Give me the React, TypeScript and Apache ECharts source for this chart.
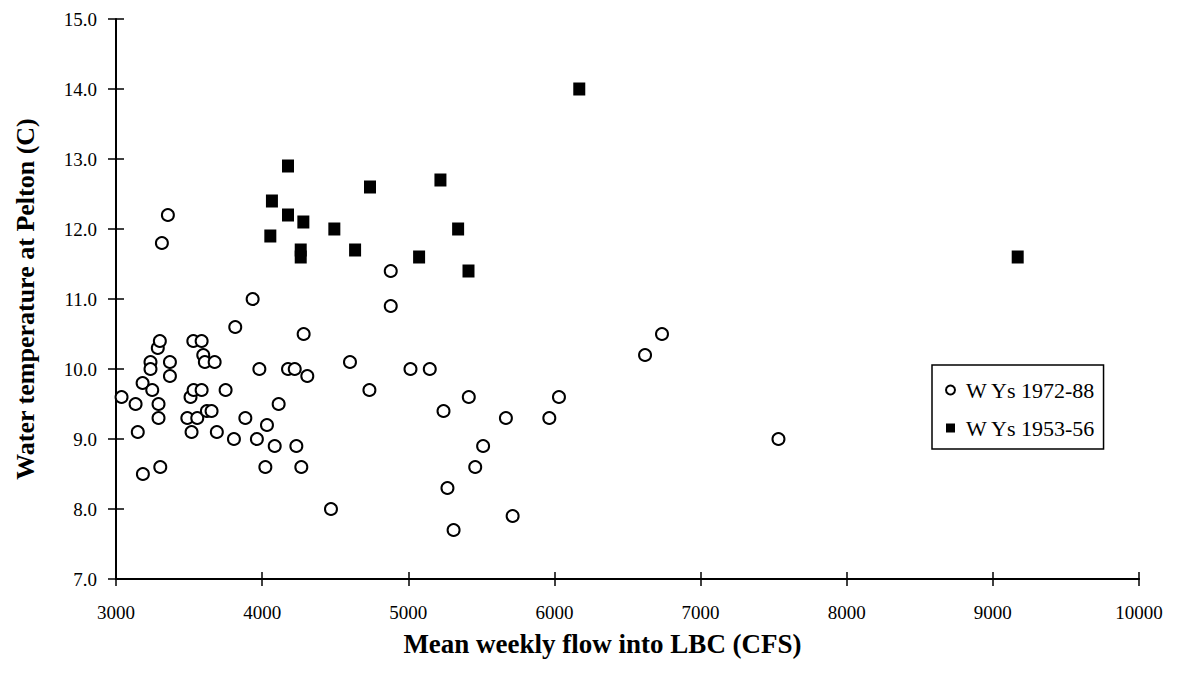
import React, { useEffect, useRef } from "react";
import * as echarts from "echarts";

const flow7288 = [
  3038, 3134, 3149, 3184, 3182, 3236, 3236, 3248, 3286, 3300, 3291, 3291, 3303, 3314, 3355,
  3369, 3369, 3488, 3510, 3517, 3529, 3531, 3556, 3586, 3586, 3597, 3608, 3622, 3654, 3675,
  3690, 3750, 3807, 3816, 3885, 3935, 3964, 3981, 4022, 4033, 4086, 4113, 4177, 4223, 4234,
  4268, 4284, 4309, 4471, 4601, 4734, 4880, 4880, 5015, 5147, 5241, 5268, 5310, 5414, 5458,
  5512, 5668, 5714, 5965, 6031, 6620, 6736, 7533,
];
const temp7288 = [
  9.6, 9.5, 9.1, 8.5, 9.8, 10.1, 10.0, 9.7, 10.3, 10.4, 9.5, 9.3, 8.6, 11.8, 12.2,
  10.1, 9.9, 9.3, 9.6, 9.1, 10.4, 9.7, 9.3, 10.4, 9.7, 10.2, 10.1, 9.4, 9.4, 10.1,
  9.1, 9.7, 9.0, 10.6, 9.3, 11.0, 9.0, 10.0, 8.6, 9.2, 8.9, 9.5, 10.0, 10.0, 8.9,
  8.6, 10.5, 9.9, 8.0, 10.1, 9.7, 11.4, 10.9, 10.0, 10.0, 9.4, 8.3, 7.7, 9.6, 8.6,
  8.9, 9.3, 7.9, 9.3, 9.6, 10.2, 10.5, 9.0,
];
const flow5356 = [
  4056, 4067, 4177, 4177, 4264, 4264, 4282, 4494, 4636, 4738, 5074, 5220, 5341, 5412, 6170, 9170,
];
const temp5356 = [
  11.9, 12.4, 12.9, 12.2, 11.7, 11.6, 12.1, 12.0, 11.7, 12.6, 11.6, 12.7, 12.0, 11.4, 14.0, 11.6,
];

const xTicks = { min: 3000, max: 10000, interval: 1000 };
const yTicks = { min: 7, max: 15, interval: 1 };
const seriesNames = ["W Ys 1972-88", "W Ys 1953-56"];

const FONT = "Liberation Serif, Times New Roman, serif";

export default function App() {
  const ref = useRef<HTMLDivElement>(null);
  useEffect(() => {
    if (!ref.current) return;
    const chart = echarts.init(ref.current, undefined, { renderer: "svg" });
    const d1 = flow7288.map((x, i) => [x, temp7288[i]]);
    const d2 = flow5356.map((x, i) => [x, temp5356[i]]);
    const baseX = {
      type: "value",
      min: xTicks.min,
      max: xTicks.max,
      interval: xTicks.interval,
      splitLine: { show: false },
    };
    const baseY = {
      type: "value",
      min: yTicks.min,
      max: yTicks.max,
      interval: yTicks.interval,
      splitLine: { show: false },
    };
    chart.setOption({
      animation: false,
      backgroundColor: "#fff",
      grid: { left: 116, right: 43, top: 19, bottom: 100 },
      xAxis: [
        {
          ...baseX,
          name: "Mean weekly flow into LBC (CFS)",
          nameLocation: "middle",
          nameGap: 51,
          nameTextStyle: {
            fontFamily: FONT,
            fontSize: 27,
            fontWeight: "bold",
            color: "#000",
            padding: [0, 50, 0, 0],
          },
          axisLine: { lineStyle: { color: "#000", width: 2 } },
          axisTick: { inside: false, length: 7, lineStyle: { color: "#000", width: 1.5 } },
          axisLabel: {
            fontFamily: FONT,
            fontSize: 19,
            color: "#000",
            margin: 24,
            formatter: (v: number) => String(v),
          },
        },
        {
          ...baseX,
          position: "bottom",
          axisLine: { show: false },
          axisTick: { inside: true, length: 7, lineStyle: { color: "#000", width: 1.5 } },
          axisLabel: { show: false },
        },
      ],
      yAxis: [
        {
          ...baseY,
          name: "Water temperature at Pelton (C)",
          nameLocation: "middle",
          nameGap: 78,
          nameTextStyle: { fontFamily: FONT, fontSize: 26, fontWeight: "bold", color: "#000" },
          axisLine: { lineStyle: { color: "#000", width: 2 } },
          axisTick: { inside: false, length: 8, lineStyle: { color: "#000", width: 1.5 } },
          axisLabel: {
            fontFamily: FONT,
            fontSize: 19,
            color: "#000",
            margin: 19,
            formatter: (v: number) => v.toFixed(1),
          },
        },
        {
          ...baseY,
          position: "left",
          axisLine: { show: false },
          axisTick: { inside: true, length: 8, lineStyle: { color: "#000", width: 1.5 } },
          axisLabel: { show: false },
        },
      ],
      legend: {
        orient: "vertical",
        left: 932,
        top: 365,
        padding: [14, 8, 10, 13],
        itemGap: 16,
        itemWidth: 9,
        itemHeight: 9,
        borderColor: "#000",
        borderWidth: 1.5,
        textStyle: { fontFamily: FONT, fontSize: 22, color: "#000", padding: [0, 0, 4, 6] },
        data: [
          { name: seriesNames[0], icon: "circle" },
          { name: seriesNames[1], icon: "rect" },
        ],
      },
      series: [
        {
          name: seriesNames[0],
          type: "scatter",
          xAxisIndex: 0,
          yAxisIndex: 0,
          symbol: "circle",
          symbolSize: 12,
          itemStyle: { color: "#fff", borderColor: "#000", borderWidth: 2, opacity: 1 },
          data: d1,
        },
        {
          name: seriesNames[1],
          type: "scatter",
          xAxisIndex: 0,
          yAxisIndex: 0,
          symbol: "rect",
          symbolSize: [12, 13],
          itemStyle: { color: "#000", opacity: 1 },
          data: d2,
        },
      ],
    });
    return () => chart.dispose();
  }, []);
  return (
    <div
      ref={ref}
      style={{ position: "fixed", left: 0, top: 0, width: 1182, height: 679, background: "#fff" }}
    />
  );
}
